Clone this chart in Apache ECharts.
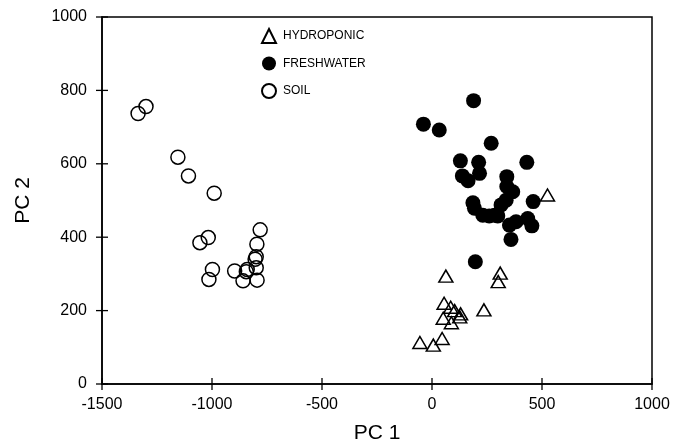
<!DOCTYPE html>
<html>
<head>
<meta charset="utf-8">
<script src="https://cdn.jsdelivr.net/npm/echarts@6/dist/echarts.min.js"></script>
<style>html,body{margin:0;padding:0;background:#fff;}#c{width:675px;height:444px;}</style>
</head>
<body>
<div id="c"></div>
<script>
var seriesNames = ['HYDROPONIC', 'FRESHWATER', 'SOIL'];
var xTicks = [-1500, -1000, -500, 0, 500, 1000];
var yTicks = [0, 200, 400, 600, 800, 1000];

var hydroponic = [
  [63,294],[310,302],[301,279],[55,220],[85,209],[103,200],[130,191],[126,183],
  [51,179],[88,167],[236,202],[46,124],[-55,113],[6,106],[525,515]
];
var freshwater = [
  [189,772],[-39,708],[33,692],[269,656],[129,608],[212,604],[431,604],[216,574],
  [138,567],[164,554],[340,565],[340,538],[367,524],[337,501],[186,494],[193,479],
  [314,488],[231,460],[284,460],[260,458],[299,458],[460,497],[352,433],[382,442],
  [435,451],[454,431],[359,394],[197,333]
];
var soil = [
  [-1336,737],[-1300,756],[-1155,618],[-1107,567],[-990,520],[-1055,385],[-1017,399],
  [-998,312],[-1014,285],[-897,308],[-840,312],[-799,317],[-859,281],[-795,283],
  [-804,340],[-796,381],[-781,420],[-844,306],[-799,347]
];

var xMin = xTicks[0], xMax = xTicks[xTicks.length - 1];
var yMin = yTicks[0], yMax = yTicks[yTicks.length - 1];
// tick marks crossing the axes, placed through the axis scales
var xTickMarks = xTicks.map(function (t) { return [t, yMin]; });
var yTickMarks = yTicks.map(function (t) { return [xMin, t]; });

var chart = echarts.init(document.getElementById('c'), null, {renderer: 'canvas'});
var font = 'Liberation Sans, Arial, sans-serif';
function plain(v) { return String(v); }
var lineStyle = {color: '#000', width: 1.5};
chart.setOption({
  animation: false,
  backgroundColor: '#fff',
  grid: {left: 102, right: 23, top: 17, bottom: 60, outerBoundsMode: 'none', containLabel: false,
         show: true, borderColor: '#000', borderWidth: 1.5, backgroundColor: 'transparent'},
  legend: {
    orient: 'vertical', left: 256, top: 23, itemGap: 12.5, itemWidth: 14, itemHeight: 14,
    data: seriesNames,
    textStyle: {fontFamily: font, fontSize: 12, color: '#000', padding: [0, 0, 0, 2]}
  },
  xAxis: {
    type: 'value', min: xMin, max: xMax, interval: 500,
    name: 'PC 1', nameLocation: 'middle', nameGap: 39,
    nameTextStyle: {fontFamily: font, fontSize: 21, color: '#000'},
    axisLine: {show: true, onZero: false, lineStyle: lineStyle},
    axisTick: {show: false},
    axisLabel: {fontFamily: font, fontSize: 16, color: '#000', margin: 13, formatter: plain},
    splitLine: {show: false}
  },
  yAxis: {
    type: 'value', min: yMin, max: yMax, interval: 200,
    name: 'PC 2', nameLocation: 'middle', nameGap: 68,
    nameTextStyle: {fontFamily: font, fontSize: 21, color: '#000'},
    axisLine: {show: true, onZero: false, lineStyle: lineStyle},
    axisTick: {show: false},
    axisLabel: {fontFamily: font, fontSize: 16, color: '#000', margin: 15, formatter: plain},
    splitLine: {show: false}
  },
  series: [{
    name: seriesNames[0], type: 'scatter', data: hydroponic,
    symbol: 'triangle', symbolSize: [14, 12],
    itemStyle: {color: 'rgba(255,255,255,0)', borderColor: '#000', borderWidth: 1.5, opacity: 1}
  }, {
    name: seriesNames[1], type: 'scatter', data: freshwater,
    symbol: 'circle', symbolSize: 15,
    itemStyle: {color: '#000', borderColor: '#000', borderWidth: 0, opacity: 1}
  }, {
    name: seriesNames[2], type: 'scatter', data: soil,
    symbol: 'circle', symbolSize: 14,
    itemStyle: {color: 'rgba(255,255,255,0)', borderColor: '#000', borderWidth: 1.5, opacity: 1}
  }, {
    name: 'xticks', type: 'scatter', data: xTickMarks, silent: true, clip: false, z: 5,
    symbol: 'rect', symbolSize: [1.3, 12], legendHoverLink: false,
    itemStyle: {color: '#000', opacity: 1}, tooltip: {show: false}
  }, {
    name: 'yticks', type: 'scatter', data: yTickMarks, silent: true, clip: false, z: 5,
    symbol: 'rect', symbolSize: [12, 1.3], legendHoverLink: false,
    itemStyle: {color: '#000', opacity: 1}, tooltip: {show: false}
  }]
});
</script>
</body>
</html>
